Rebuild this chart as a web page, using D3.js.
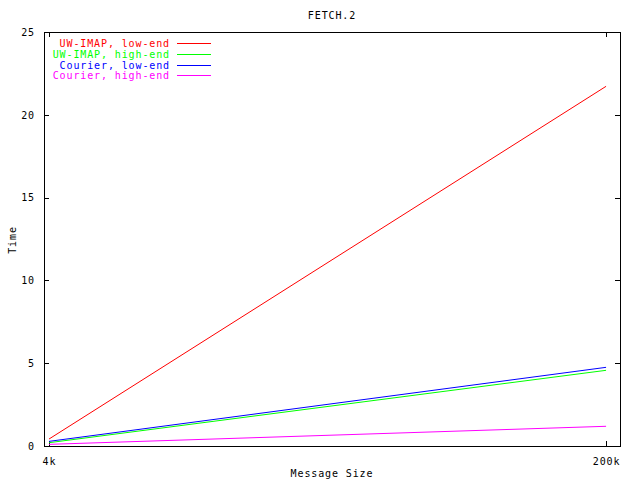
<!DOCTYPE html>
<html><head><meta charset="utf-8">
<script src="https://cdn.jsdelivr.net/npm/d3@7"></script>
<style>body{margin:0;background:#fff}text{font-family:"DejaVu Sans Mono",monospace;font-size:10px;letter-spacing:0.88px}</style>
</head><body>
<svg id="c" width="640" height="480"></svg>
<script>
const xTickValues = [4, 200];
const xTickLabels = ["4k", "200k"];
const yTicks = [0, 5, 10, 15, 20, 25];
const messageSize = [4, 200];
const seriesNames = ["UW-IMAP, low-end", "UW-IMAP, high-end", "Courier, low-end", "Courier, high-end"];
const seriesColors = ["#ff0000", "#00ff00", "#0000ff", "#ff00ff"];
const uwLow = [0.42, 21.72];
const uwHigh = [0.2, 4.57];
const courierLow = [0.28, 4.75];
const courierHigh = [0.1, 1.19];
const allSeries = [uwLow, uwHigh, courierLow, courierHigh];

const svg = d3.select("#c");
const L = 44, R = 620, T = 32, B = 446;
const x = d3.scaleLinear().domain([2.24, 204.9]).range([L, R]);
const y = d3.scaleLinear().domain([0, 25]).range([B, T]);

svg.append("rect").attr("x", L + 0.5).attr("y", T + 0.5).attr("width", R - L).attr("height", B - T)
  .attr("fill", "none").attr("stroke", "#000").attr("shape-rendering", "crispEdges");

const tl = 5;
const yAx = d3.axisLeft(y).tickValues(yTicks).tickSize(0).tickPadding(8);
const gy = svg.append("g").attr("transform", `translate(${L},0)`).call(yAx);
gy.select(".domain").remove();
gy.selectAll("text").attr("fill", "#000").style("font-size", "10px").attr("dx", "-1");
yTicks.forEach(v => {
  const yy = Math.round(y(v)) + 0.5;
  svg.append("line").attr("x1", L).attr("x2", L + tl).attr("y1", yy).attr("y2", yy).attr("stroke", "#000").attr("shape-rendering", "crispEdges");
  svg.append("line").attr("x1", R - tl).attr("x2", R).attr("y1", yy).attr("y2", yy).attr("stroke", "#000").attr("shape-rendering", "crispEdges");
});
const xAx = d3.axisBottom(x).tickValues(xTickValues).tickFormat((d, i) => xTickLabels[i]).tickSize(0).tickPadding(12);
const gx = svg.append("g").attr("transform", `translate(0,${B})`).call(xAx);
gx.select(".domain").remove();
gx.selectAll("text").attr("fill", "#000").style("font-size", "10px");
xTickValues.forEach(v => {
  const xx = Math.round(x(v)) + 0.5;
  svg.append("line").attr("x1", xx).attr("x2", xx).attr("y1", B - tl).attr("y2", B).attr("stroke", "#000").attr("shape-rendering", "crispEdges");
  svg.append("line").attr("x1", xx).attr("x2", xx).attr("y1", T).attr("y2", T + tl).attr("stroke", "#000").attr("shape-rendering", "crispEdges");
});

const line = d3.line().x((d, i) => x(messageSize[i])).y(d => y(d));
allSeries.forEach((s, i) => {
  svg.append("path").datum(s).attr("d", line).attr("fill", "none")
    .attr("stroke", seriesColors[i]).attr("stroke-width", 1);
});

seriesNames.forEach((n, i) => {
  const yy = Math.round(43.3 + i * 10.6);
  svg.append("text").attr("x", 170).attr("y", yy).attr("dy", "0.35em").attr("text-anchor", "end")
    .attr("fill", seriesColors[i]).text(n);
  svg.append("line").attr("x1", 177).attr("x2", 211).attr("y1", yy + 0.5).attr("y2", yy + 0.5)
    .attr("stroke", seriesColors[i]).attr("shape-rendering", "crispEdges");
});

svg.append("text").attr("x", 332).attr("y", 15).attr("dy", "0.35em").attr("text-anchor", "middle").text("FETCH.2");
svg.append("text").attr("x", 332).attr("y", 473).attr("dy", "0.35em").attr("text-anchor", "middle").text("Message Size");
svg.append("text").attr("transform", "translate(12,240) rotate(-90)").attr("dy", "0.35em").attr("text-anchor", "middle").text("Time");
</script>
</body></html>
